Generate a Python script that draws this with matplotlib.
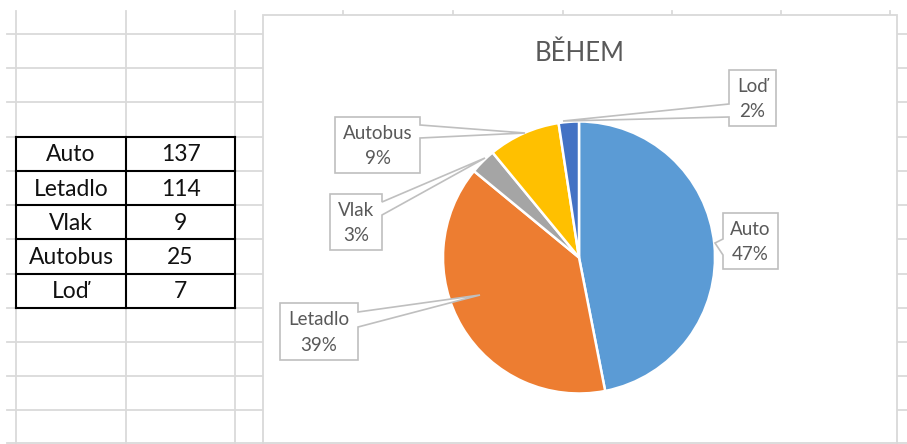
import matplotlib
matplotlib.use("Agg")
import matplotlib.pyplot as plt
from matplotlib.patches import Polygon, Rectangle

# ---- data ----
categories = ["Auto", "Letadlo", "Vlak", "Autobus", "Loď"]
values = [137, 114, 9, 25, 7]
colors = ["#5B9BD5", "#ED7D31", "#A5A5A5", "#FFC000", "#4472C4"]
title = "BĚHEM"

W, H = 907, 444
FONT = ["Lato", "DejaVu Sans"]

fig = plt.figure(figsize=(W / 100, H / 100), dpi=100)
ax = fig.add_axes([0, 0, 1, 1])


def Y(y):
    return H - y


GRID = "#dadada"

# ---- spreadsheet grid ----
row_lines = [33.5, 68, 102.3, 136.5, 171, 205, 239.5, 274, 308, 342, 376, 410, 443.5]
for yy in row_lines:
    ax.plot([7, 263], [Y(yy), Y(yy)], color=GRID, lw=1.3, zorder=0)
    ax.plot([897, 907], [Y(yy), Y(yy)], color=GRID, lw=1.3, zorder=0)
for xx in [16, 126, 235]:
    ax.plot([xx, xx], [Y(11), Y(444)], color=GRID, lw=1.3, zorder=0)
for xx in [343, 453, 563, 672, 781, 890]:
    ax.plot([xx, xx], [Y(11), Y(15)], color=GRID, lw=1.3, zorder=0)

# ---- table ----
col_edges = [16, 126, 235]
row_edges = [136.5, 171, 205, 239.5, 274, 308]
for i, (cat, val) in enumerate(zip(categories, values)):
    y0, y1 = row_edges[i], row_edges[i + 1]
    yc = (y0 + y1) / 2 + 1
    ax.text((col_edges[0] + col_edges[1]) / 2, Y(yc), cat, ha="center", va="center",
            fontsize=16.5, family=FONT, color="#111111", zorder=3)
    ax.text((col_edges[1] + col_edges[2]) / 2, Y(yc), str(val), ha="center", va="center",
            fontsize=16.5, family=FONT, color="#111111", zorder=3)
for yy in row_edges:
    ax.plot([col_edges[0], col_edges[-1]], [Y(yy), Y(yy)], color="black", lw=1.5, zorder=2)
for xx in col_edges:
    ax.plot([xx, xx], [Y(row_edges[0]), Y(row_edges[-1])], color="black", lw=1.5, zorder=2)

# ---- chart area ----
ax.add_patch(Rectangle((263, Y(443)), 897 - 263, 443 - 15, facecolor="white",
                       edgecolor="#d9d9d9", lw=1.3, zorder=1))
ax.text(580, Y(53), title, ha="center", va="center", fontsize=18.5, family=FONT,
        color="#595959", zorder=5)

cx, cy, r = 579, 257.5, 136
wedges, _ = ax.pie(values, colors=colors, startangle=90, counterclock=False,
                   center=(cx, Y(cy)), radius=r, frame=True,
                   wedgeprops=dict(edgecolor="white", linewidth=1.8, zorder=4))

total = sum(values)
pcts = [f"{round(100 * v / total)}%" for v in values]

# callout layout: box (x0, x1, y0, y1), side of wedge, wedge base (b0, b1), tip
callouts = {
    "Auto":    dict(box=(723, 778, 213, 269), side="left",  base=(239, 255), tip=(715, 243)),
    "Letadlo": dict(box=(280, 358, 303, 360), side="right", base=(312, 327), tip=(480, 295)),
    "Vlak":    dict(box=(330, 382, 194, 250), side="right", base=(202, 215), tip=(485, 158)),
    "Autobus": dict(box=(335, 420, 117, 173), side="right", base=(125, 138), tip=(525, 133)),
    "Loď":     dict(box=(729, 776, 70, 126),  side="left",  base=(104, 117), tip=(563, 121)),
}

for cat, pct in zip(categories, pcts):
    c = callouts[cat]
    x0, x1, y0, y1 = c["box"]
    b0, b1 = c["base"]
    tx, ty = c["tip"]
    if c["side"] == "right":
        pts = [(x0, y0), (x1, y0), (x1, b0), (tx, ty), (x1, b1), (x1, y1), (x0, y1)]
    else:
        pts = [(x0, y0), (x1, y0), (x1, y1), (x0, y1), (x0, b1), (tx, ty), (x0, b0)]
    pts = [(px, Y(py)) for px, py in pts]
    ax.add_patch(Polygon(pts, closed=True, facecolor="white", edgecolor="#bfbfbf",
                         lw=1.2, zorder=6, joinstyle="miter"))
    xc = (x0 + x1) / 2
    h = y1 - y0
    ax.text(xc, Y(y0 + h * 0.29), cat, ha="center", va="center", fontsize=13.5,
            family=FONT, color="#595959", zorder=7)
    ax.text(xc, Y(y0 + h * 0.74), pct, ha="center", va="center", fontsize=13.5,
            family=FONT, color="#595959", zorder=7)

ax.set_xlim(0, W)
ax.set_ylim(0, H)
ax.set_aspect("equal", adjustable="box")
ax.axis("off")

fig.savefig("out.png", dpi=100, facecolor="white")
